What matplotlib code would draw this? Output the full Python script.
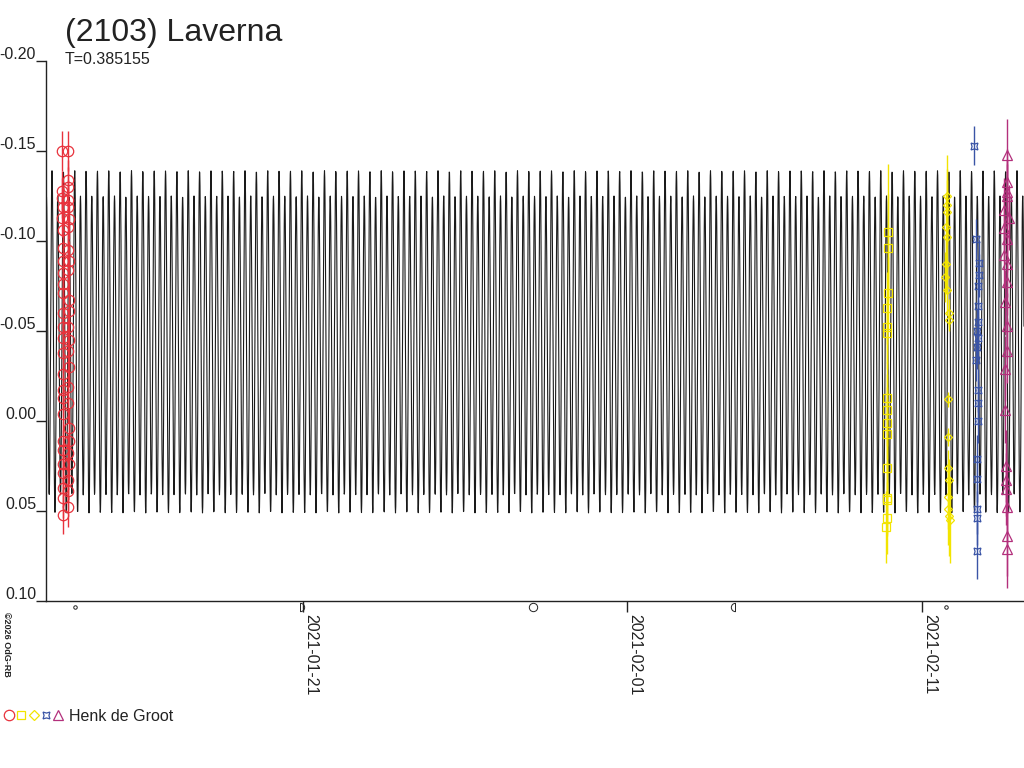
import numpy as np
import matplotlib
matplotlib.use('Agg')
import matplotlib.pyplot as plt
import matplotlib.dates as mdates
from matplotlib.path import Path
from matplotlib.legend_handler import HandlerTuple
from matplotlib.lines import Line2D
from datetime import datetime

plt.rcParams['font.family'] = ['Liberation Sans', 'DejaVu Sans']

# --- data -------------------------------------------------------------
title = "(2103) Laverna"
period = 0.385155                      # days
t_ref = mdates.date2num(datetime(2021, 1, 12))   # times below are days after this

# model lightcurve (Fourier terms)
model_mean = -0.043
model_a1 = 0.0086
model_d1 = 0.62
model_a2 = 0.089
model_epoch = 0.10
x_start, x_end = 0.28, 33.46           # plotted range, days after t_ref

# session 1 : red circles
red_t = [0.82, 0.83, 0.83, 0.84, 0.83, 0.84, 0.85, 0.84, 0.85, 0.84, 0.85, 0.86, 0.85,
         0.86, 0.85, 0.86, 0.85, 0.86, 0.85, 0.86, 0.85, 0.86, 0.85, 0.86, 0.85, 0.86,
         1.01, 1.02, 1.03, 1.04, 1.02, 1.05, 1.03, 1.04, 1.06, 1.03, 1.05, 1.07, 1.04,
         1.06, 1.03, 1.05, 1.04, 1.03, 1.05, 1.06, 1.04, 1.05, 1.03, 1.04, 1.02]
red_m = [-0.150, -0.128, -0.124, -0.119, -0.113, -0.106, -0.096, -0.089, -0.082, -0.076,
         -0.071, -0.060, -0.052, -0.046, -0.038, -0.026, -0.017, -0.013, -0.004, 0.011,
         0.016, 0.024, 0.029, 0.037, 0.043, 0.052,
         -0.150, -0.134, -0.130, -0.123, -0.119, -0.112, -0.108, -0.095, -0.089, -0.084,
         -0.067, -0.061, -0.052, -0.045, -0.039, -0.030, -0.019, -0.010, 0.004, 0.011,
         0.018, 0.024, 0.033, 0.039, 0.048]
red_e = [0.011] * len(red_m)

# session 2 : yellow squares
sq_t = [28.84, 28.84, 28.83, 28.82, 28.82, 28.82, 28.81, 28.81, 28.81, 28.81, 28.80,
        28.80, 28.80, 28.80, 28.79]
sq_m = [-0.105, -0.096, -0.071, -0.063, -0.052, -0.049, -0.013, -0.006, 0.001, 0.007,
        0.026, 0.043, 0.044, 0.054, 0.059]
sq_e = [0.038, 0.030, 0.020, 0.020, 0.020, 0.020, 0.020, 0.020, 0.020, 0.020, 0.020,
        0.020, 0.020, 0.020, 0.020]

# session 3 : yellow diamonds
dm_t = [30.85, 30.85, 30.85, 30.82, 30.85, 30.82, 30.79, 30.85, 30.92, 30.92, 30.89,
        30.89, 30.89, 30.92, 30.89, 30.89, 30.92, 30.95]
dm_m = [-0.125, -0.120, -0.116, -0.108, -0.102, -0.087, -0.080, -0.073, -0.060, -0.056,
        -0.012, 0.009, 0.026, 0.033, 0.042, 0.049, 0.053, 0.055]
dm_e = [0.023, 0.020, 0.018, 0.018, 0.018, 0.016, 0.014, 0.014, 0.008, 0.006,
        0.004, 0.005, 0.010, 0.012, 0.018, 0.020, 0.022, 0.024]

# session 4 : blue stars
bl_t = [31.77, 31.84, 31.94, 31.94, 31.91, 31.91, 31.91, 31.87, 31.91, 31.87, 31.84,
        31.91, 31.91, 31.91, 31.87, 31.87, 31.87, 31.87, 31.87]
bl_m = [-0.153, -0.101, -0.088, -0.081, -0.075, -0.064, -0.055, -0.050, -0.046, -0.041,
        -0.034, -0.017, -0.010, 0.000, 0.021, 0.032, 0.049, 0.054, 0.072]
bl_e = [0.011, 0.011, 0.012, 0.012, 0.012, 0.012, 0.012, 0.012, 0.012, 0.012, 0.012,
        0.012, 0.012, 0.012, 0.013, 0.013, 0.014, 0.015, 0.016]

# session 5 : magenta triangles
mg_t = [32.90, 32.90, 32.87, 32.90, 32.77, 32.94, 32.77, 32.90, 32.77, 32.90, 32.87,
        32.80, 32.87, 32.87, 32.80, 32.80, 32.84, 32.84, 32.84, 32.87, 32.87, 32.87]
mg_m = [-0.148, -0.133, -0.127, -0.125, -0.117, -0.113, -0.107, -0.101, -0.092, -0.087,
        -0.077, -0.066, -0.053, -0.039, -0.029, -0.006, 0.025, 0.033, 0.038, 0.048,
        0.064, 0.071]
mg_e = [0.020, 0.018, 0.018, 0.018, 0.018, 0.018, 0.018, 0.018, 0.018, 0.018, 0.018,
        0.018, 0.018, 0.018, 0.018, 0.018, 0.020, 0.020, 0.020, 0.020, 0.022, 0.022]

observer = "Henk de Groot"
credit = "©2026 OdG-RB"

# moon phases below the axis
moon_t = [1.26, 8.90, 16.80, 23.66, 30.81]
moon_kind = ['new', 'first', 'full', 'last', 'new']

y_ticks = [-0.20, -0.15, -0.10, -0.05, 0.00, 0.05, 0.10]
y_labels = ['-0.20', '-0.15', '-0.10', '-0.05', '0.00', '0.05', '0.10']
x_tick_dates = [datetime(2021, 1, 21), datetime(2021, 2, 1), datetime(2021, 2, 11)]

# --- colours ----------------------------------------------------------
c_text = '#222222'
c_red = '#e8323c'
c_yel = '#f2e400'
c_blue = '#3a54a6'
c_mag = '#b3307c'

W, H = 1024, 768
fig = plt.figure(figsize=(W / 100, H / 100), dpi=100)
ax = fig.add_axes([46 / W, 1 - 601 / H, (W - 46) / W, (601 - 61) / H])

# model curve, a few samples per pixel column
px_per_day = (W - 46) / (x_end - x_start)
tt = np.arange(x_start, x_end, 0.25 / px_per_day)
ph = 2 * np.pi * (tt - model_epoch) / period
mm = model_mean - model_a2 * np.cos(2 * ph) - model_a1 * np.cos(ph + model_d1)
ax.plot(t_ref + tt, mm, color='#1a1a1a', lw=0.8, zorder=2)


def session(t, m, e, color, marker, ms):
    t = t_ref + np.array(t)
    ax.errorbar(t, m, yerr=e, fmt='none', ecolor=color, elinewidth=1.0, capsize=0, zorder=3)
    ax.plot(t, m, ls='none', marker=marker, ms=ms, mfc='none', mec=color, mew=0.9, zorder=4)


session(red_t, red_m, red_e, c_red, 'o', 7.5)
session(sq_t, sq_m, sq_e, c_yel, 's', 5.5)
session(dm_t, dm_m, dm_e, c_yel, 'D', 4.5)
session(bl_t, bl_m, bl_e, c_blue, (4, 1, 45), 7)
session(mg_t, mg_m, mg_e, c_mag, '^', 6.5)

ax.set_xlim(t_ref + x_start, t_ref + x_end)
ax.set_ylim(0.10, -0.20)

for s in ['top', 'right']:
    ax.spines[s].set_visible(False)
for s in ['left', 'bottom']:
    ax.spines[s].set_color(c_text)
    ax.spines[s].set_linewidth(1.0)

ax.set_yticks(y_ticks)
ax.tick_params(axis='y', length=7.2, width=1.0, color=c_text, labelleft=False)
for v, lab in zip(y_ticks, y_labels):
    ax.annotate(lab, xy=(0, v), xycoords=('axes fraction', 'data'), xytext=(-10, 2),
                textcoords='offset pixels', ha='right', va='baseline', fontsize=11.5,
                color=c_text, annotation_clip=False)

ax.set_xticks([mdates.date2num(d) for d in x_tick_dates])
ax.xaxis.set_major_formatter(mdates.DateFormatter('%Y-%m-%d'))
ax.tick_params(axis='x', length=8, width=1.0, color=c_text, labelsize=11.5,
               labelcolor=c_text, labelrotation=-90, pad=1)
for lab in ax.get_xticklabels():
    lab.set_ha('left')
    lab.set_va('top')
    lab.set_rotation_mode('default')

# moon phase symbols
right_half = Path.arc(-90, 90)
right_half = Path(np.vstack([right_half.vertices, right_half.vertices[:1]]),
                  list(right_half.codes) + [Path.CLOSEPOLY])
left_half = Path.arc(90, 270)
left_half = Path(np.vstack([left_half.vertices, left_half.vertices[:1]]),
                 list(left_half.codes) + [Path.CLOSEPOLY])
moon_style = {'new': ('o', 2.5), 'full': ('o', 6), 'first': (right_half, 6), 'last': (left_half, 6)}
for t, k in zip(moon_t, moon_kind):
    mk, ms = moon_style[k]
    ax.plot([t_ref + t], [-0.012], transform=ax.get_xaxis_transform(), marker=mk, ms=ms,
            mfc='none', mec=c_text, mew=0.7, clip_on=False, ls='none')

# titles
fig.text(65 / W, 1 - 41 / H, title, fontsize=23, color=c_text, ha='left', va='baseline')
fig.text(65 / W, 1 - 64 / H, "T=%.6f" % period, fontsize=11.5, color=c_text,
         ha='left', va='baseline')
fig.text(2 / W, 1 - 612 / H, credit, fontsize=6.5, color=c_text, rotation=-90,
         ha='left', va='top', fontweight='bold')

# legend
handles = tuple(Line2D([], [], ls='none', marker=mk, ms=ms, mfc='none', mec=c, mew=0.9)
                for mk, ms, c in [('o', 7.5, c_red), ('s', 6, c_yel), ('D', 5, c_yel),
                                  ((4, 1, 45), 7, c_blue), ('^', 7, c_mag)])
fig.legend([handles], [observer], handler_map={tuple: HandlerTuple(ndivide=None, pad=0.1)},
           loc='lower left', bbox_to_anchor=(0, 1 - 727 / H), frameon=False,
           fontsize=11.5, handlelength=3.8, handletextpad=0.3, borderaxespad=0,
           borderpad=0.2, labelcolor=c_text)

fig.savefig('out.png', dpi=100)
